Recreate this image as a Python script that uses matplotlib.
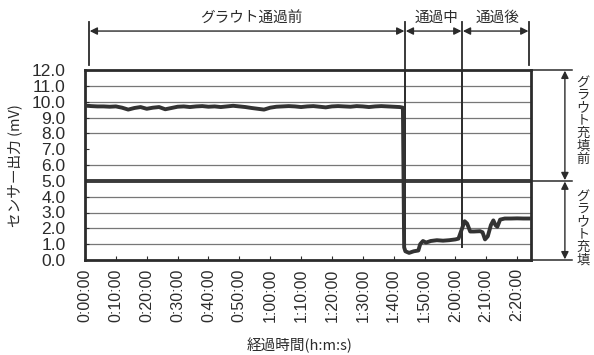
import matplotlib
matplotlib.use("Agg")
import matplotlib.pyplot as plt
from matplotlib.transforms import blended_transform_factory

plt.rcParams['font.family'] = ['Noto Sans CJK JP', 'DejaVu Sans']
NUM_FONT = ['Liberation Sans Narrow', 'Liberation Sans', 'DejaVu Sans']

# sensor output (mV) vs elapsed time (minutes)
before_t = list(range(0, 104, 2))
before_v = [9.75, 9.72, 9.70, 9.70, 9.68, 9.70, 9.62, 9.50, 9.60, 9.66,
            9.55, 9.62, 9.66, 9.52, 9.60, 9.68, 9.70, 9.66, 9.70, 9.72,
            9.68, 9.70, 9.66, 9.70, 9.74, 9.70, 9.66, 9.60, 9.55, 9.50,
            9.62, 9.68, 9.70, 9.72, 9.70, 9.66, 9.70, 9.72, 9.68, 9.64,
            9.70, 9.72, 9.70, 9.68, 9.72, 9.70, 9.66, 9.70, 9.72, 9.70,
            9.68, 9.66]
after_t = [103.0, 103.4, 103.8, 105.0, 106.5, 108.0, 108.6, 109.5, 110.5,
           112.0, 114.0, 116.0, 118.0, 120.0, 121.0, 122.0, 123.0, 123.8,
           124.8, 126.0, 128.0, 128.8, 129.6, 130.5, 131.5, 132.3, 133.0,
           133.6, 134.5, 136.0, 138.0, 140.0, 142.0, 144.2]
after_v = [9.62, 0.80, 0.55, 0.45, 0.55, 0.60, 1.00, 1.20, 1.10,
           1.20, 1.25, 1.22, 1.25, 1.30, 1.35, 1.90, 2.45, 2.30,
           1.80, 1.80, 1.82, 1.75, 1.30, 1.50, 2.20, 2.50, 2.20,
           2.10, 2.55, 2.62, 2.62, 2.63, 2.62, 2.62]

time_min = before_t + after_t
output_mv = before_v + after_v

y_ticks = [i * 1.0 for i in range(13)]
grid_levels = [1, 2, 3, 4, 6, 8, 9, 10, 11]
threshold = 5.0
x_ticks = list(range(0, 150, 10))
x_labels = [f"{m // 60}:{m % 60:02d}:00" for m in x_ticks]

# phase boundaries (minutes)
phase_start = 1.3
pass_start = 103.7
pass_end = 122.2
phase_end = 143.9
phase_names = ["グラウト通過前", "通過中", "通過後"]
phase_label_x = [54, 114, 133.5]

# fill-state labels on the right, written vertically
fill_names = ["グラウト充填前", "グラウト充填"]
fill_label_y = [8.8, 2.0]

ink = '#2b2b2b'
fig = plt.figure(figsize=(5.94, 3.55), dpi=100)
ax = fig.add_axes([85 / 594, 1 - 260 / 355, 446 / 594, 190 / 355])

ax.set_xlim(0, 144.5)
ax.set_ylim(0, 12)

for g in grid_levels:
    ax.axhline(g, color='#777777', lw=0.9, zorder=1)
ax.axhline(threshold, color='#3a3a3a', lw=2.8, zorder=2)

ax.plot(time_min, output_mv, color='#333333', lw=2.8, solid_joinstyle='round',
        solid_capstyle='round', zorder=4)

# phase boundary lines running into the plot
ax.plot([pass_start, pass_start], [0.6, 12], color=ink, lw=1.4, zorder=3)
ax.plot([pass_end, pass_end], [0.8, 12], color=ink, lw=1.4, zorder=3)

for s in ax.spines.values():
    s.set_color(ink)
    s.set_linewidth(2.0)

ax.set_yticks(y_ticks)
ax.set_yticklabels([f"{v:.1f}" for v in y_ticks], family=NUM_FONT, fontsize=12.5)
ax.set_xticks(x_ticks)
ax.set_xticklabels(x_labels, rotation=90, family=NUM_FONT, fontsize=11.5)
ax.tick_params(axis='y', direction='in', length=3, width=0.8, pad=14, colors=ink)
ax.tick_params(axis='x', direction='in', length=3, width=0.8, pad=6, colors=ink)

# top phase annotations
trans_top = blended_transform_factory(ax.transData, ax.transAxes)
for xv in [phase_start, pass_start, pass_end, phase_end]:
    top = 1.253
    bottom = 1.026 if xv in (phase_start, phase_end) else 1.0
    ax.plot([xv, xv], [bottom, top], color=ink, lw=1.3, transform=trans_top,
            clip_on=False)
spans = [(phase_start, pass_start), (pass_start, pass_end), (pass_end, phase_end)]
arrow_style = dict(arrowstyle='<|-|>', color=ink, lw=1.0, mutation_scale=11,
                   shrinkA=0.5, shrinkB=0.5)
for (a, b), name, lx in zip(spans, phase_names, phase_label_x):
    ax.annotate('', xy=(a, 1.205), xytext=(b, 1.205), xycoords=trans_top,
                textcoords=trans_top, arrowprops=arrow_style, annotation_clip=False)
    ax.text(lx, 1.272, name, transform=trans_top, ha='center', va='center',
            fontsize=10.5, color=ink)

# right-side level annotations
trans_right = blended_transform_factory(ax.transAxes, ax.transData)
for lvl in [12.0, threshold, 0.0]:
    ax.plot([1.0, 1.092], [lvl, lvl], color=ink, lw=1.1, transform=trans_right,
            clip_on=False)
for lo, hi in [(threshold, 12.0), (0.0, threshold)]:
    ax.annotate('', xy=(1.076, lo), xytext=(1.076, hi), xycoords=trans_right,
                textcoords=trans_right, arrowprops=arrow_style, annotation_clip=False)
for name, ly in zip(fill_names, fill_label_y):
    ax.text(1.117, ly, "\n".join(name), transform=trans_right, ha='center',
            va='center', fontsize=9.5, color=ink, linespacing=0.98, clip_on=False)

fig.text(15 / 594, 1 - 166 / 355, "センサー出力 (mV)", rotation=90, ha='center',
         va='center', fontsize=10.5, color=ink)
fig.text(300 / 594, 1 - 345 / 355, "経過時間(h:m:s)", ha='center', va='center',
         fontsize=10.5, color=ink)

fig.savefig('out.png', dpi=100, facecolor='white')
